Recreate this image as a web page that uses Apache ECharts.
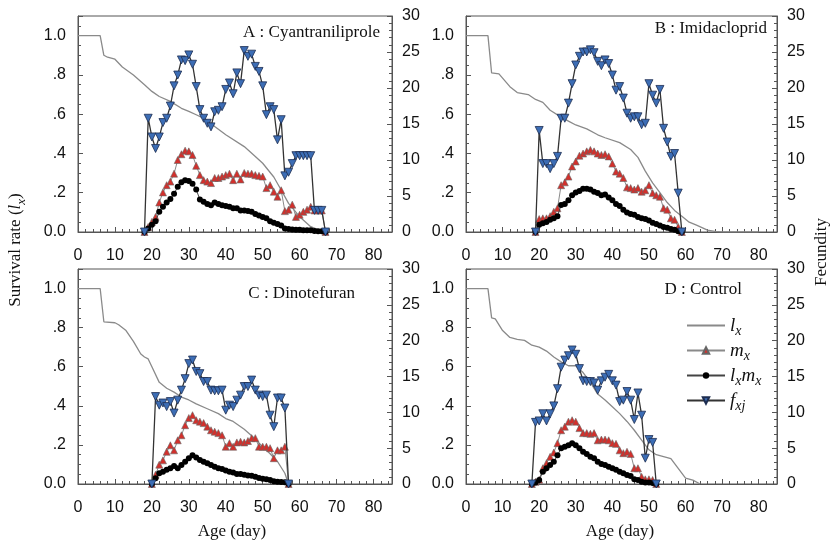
<!DOCTYPE html>
<html><head><meta charset="utf-8">
<script src="https://cdn.jsdelivr.net/npm/echarts@6/dist/echarts.min.js"></script>
<style>html,body{margin:0;padding:0;background:#fff}#c{width:834px;height:549px}</style>
</head><body><div id="c"></div>
<script>
// ---------- DATA ----------
const panelTitles = ['A : Cyantraniliprole', 'B : Imidacloprid', 'C : Dinotefuran', 'D : Control'];
const xTicks = [0, 10, 20, 30, 40, 50, 60, 70, 80];
const seriesNames = ['lx', 'mx', 'lxmx', 'fxj'];

// Panel A (ages 18..67)
const startA = 18;
const fxjA = [0,15.8,13.2,11.6,13.2,15.2,15.8,17.5,20.3,21.8, 23.9,23.8,24.6,23.3,20.2,17.0,15.8,15.1,14.6,16.7, 16.9,17.4,19.8,20.7,19.2,22.1,20.6,25.2,24.4,24.7, 23.0,22.3,20.3,16.3,17.4,17.0,12.8,15.6,7.8,8.3, 9.5,10.6,10.6,10.6,10.6,10.6,3.0,3.0,3.0,0];
const mxA = [0,0.7,1.4,2.1,4.1,5.5,6.5,7.0,8.1,10.0, 10.8,11.3,11.2,10.7,9.2,7.9,7.2,7.0,6.8,7.5, 7.5,7.7,7.9,8.1,7.2,8.1,7.3,8.2,8.1,8.1, 7.9,7.8,7.7,6.1,6.5,5.6,4.9,5.8,2.9,3.1, 3.8,2.1,2.4,2.8,3.1,3.5,3.0,3.0,3.0,0];
const lxmxA = [0,0.5,1.0,1.5,2.8,3.5,4.1,4.6,5.3,6.3, 6.9,7.2,7.1,6.7,5.9,4.5,4.2,3.9,3.7,4.1, 3.9,3.7,3.6,3.5,3.3,3.3,3.0,3.0,2.9,2.8, 2.5,2.3,2.1,1.9,1.5,1.3,1.1,0.9,0.5,0.4, 0.35,0.3,0.3,0.25,0.25,0.25,0.15,0.1,0.1,0];
const lxAgeA = [0,6,7,8,10,12,15,18,20,22,25,28,30,32,35,37,40,45,48,50,53,55,57,60,63,66,67];
const lxA = [1,1,0.90,0.89,0.88,0.84,0.80,0.75,0.716,0.69,0.665,0.63,0.614,0.597,0.57,0.537,0.495,0.435,0.385,0.35,0.28,0.214,0.146,0.078,0.027,0.005,0];

// Panel B (ages 19..59)
const startB = 19;
const fxjB = [0,14.1,9.5,9.5,8.8,9.5,10.5,15.8,15.8,17.9, 20.6,23.2,24.4,25.0,25.0,25.3,24.9,23.7,23.1,23.9, 23.4,21.8,19.7,20.2,18.6,16.5,15.8,16.0,16.0,14.9, 15.1,20.6,19.0,17.9,19.8,14.4,12.5,10.5,10.9,5.4, 0];
const mxB = [0,1.8,1.9,1.9,2.2,2.8,3.3,6.5,6.9,7.7, 9.1,9.8,10.6,10.9,11.2,11.4,11.2,10.9,10.7,10.8, 10.5,9.5,8.4,8.1,7.5,6.2,6.1,5.9,6.1,5.6, 5.8,6.5,5.4,5.1,4.9,3.3,3.1,1.9,1.7,0.7, 0];
const lxmxB = [0,1.0,1.2,1.4,1.7,1.9,2.2,3.75,3.9,4.4, 5.1,5.5,5.7,6.0,6.0,5.9,5.6,5.4,5.1,5.2, 4.8,4.4,3.9,3.6,3.1,2.7,2.5,2.4,2.1,1.9, 1.8,1.6,1.3,1.1,0.9,0.7,0.6,0.4,0.3,0.1, 0];
const lxAgeB = [0,6,7,9,12,14,17,19,21,23,26,28,30,33,36,38,42,45,47,49,51,53,55,57,59,61,63,66,68,70,80];
const lxB = [1,1,0.81,0.805,0.74,0.71,0.70,0.675,0.66,0.62,0.585,0.565,0.545,0.525,0.495,0.48,0.455,0.42,0.38,0.31,0.25,0.20,0.15,0.11,0.08,0.05,0.035,0.01,0.003,0.001,0.001];

// Panel C (ages 20..57)
const startC = 20;
const fxjC = [0,12.2,11.0,11.3,10.8,11.5,9.9,11.7,13.1,14.7, 16.8,17.3,15.7,15.4,14.3,14.3,13.1,13.0,13.0,13.1, 10.3,11.0,10.8,11.7,12.4,13.6,13.6,14.5,13.1,12.4, 12.2,12.4,9.6,8.0,12.0,12.0,10.6,0];
const mxC = [0,1.3,2.7,3.3,4.5,5.4,4.7,6.1,6.8,8.2, 9.2,9.6,8.9,8.7,8.5,8.0,7.5,7.3,7.1,6.8, 5.2,5.7,5.2,5.8,5.9,5.8,6.0,6.4,6.4,5.2, 5.2,5.2,5.0,3.6,4.7,4.7,5.2,0];
const lxmxC = [0,0.8,1.5,1.7,2.0,2.2,2.5,2.2,2.65,3.1, 3.6,4.0,3.7,3.35,3.1,2.9,2.65,2.4,2.2,2.1, 1.9,1.7,1.6,1.4,1.4,1.3,1.2,1.15,1.0,0.85, 0.75,0.65,0.55,0.37,0.3,0.28,0.25,0];
const lxAgeC = [0,6,7,10,11,13,15,17,18,19,20,22,24,26,28,30,32,35,38,40,42,45,48,50,52,54,56,57];
const lxC = [1,1,0.83,0.825,0.815,0.785,0.73,0.665,0.65,0.64,0.60,0.52,0.49,0.47,0.445,0.43,0.41,0.385,0.36,0.335,0.32,0.28,0.23,0.19,0.155,0.115,0.055,0];

// Panel D (ages 18..52)
const startD = 18;
const fxjD = [0,8.6,8.8,9.8,8.8,9.8,10.9,13.3,16.3,17.3, 17.9,18.7,18.1,16.1,14.4,14.3,14.3,14.1,13.1,14.4, 14.9,15.3,14.4,13.8,11.5,11.7,12.9,11.7,9.0,12.7, 9.6,3.6,6.2,5.8,0];
const mxD = [0,0.3,0.6,2.2,2.9,3.8,4.4,5.7,7.5,8.0, 8.7,8.9,8.7,7.8,7.1,7.1,7.0,7.1,6.1,6.2, 6.2,6.1,5.7,5.6,4.7,4.3,4.5,4.2,2.2,2.2, 1.0,0.65,0.65,0.56,0];
const lxmxD = [0,0.2,0.55,1.7,2.2,2.65,3.1,4.0,5.0,5.2, 5.4,5.7,5.4,5.0,4.5,4.2,3.8,3.6,3.1,2.8, 2.65,2.4,2.2,2.0,1.7,1.5,1.25,1.1,0.65,0.56, 0.3,0.2,0.2,0.15,0];
const lxAgeD = [0,6,7,8,10,12,14,16,18,20,22,24,26,28,30,32,34,36,38,40,42,44,46,48,50,52,54,56,58,60,62,64];
const lxD = [1,1,0.85,0.845,0.785,0.75,0.74,0.735,0.71,0.70,0.68,0.65,0.625,0.605,0.605,0.57,0.52,0.46,0.43,0.395,0.36,0.32,0.275,0.225,0.175,0.15,0.14,0.13,0.08,0.03,0.02,0];

// ---------- BUILD ----------
const panels = [
  {start: startA, fxj: fxjA, mx: mxA, lxmx: lxmxA, lxAge: lxAgeA, lx: lxA},
  {start: startB, fxj: fxjB, mx: mxB, lxmx: lxmxB, lxAge: lxAgeB, lx: lxB},
  {start: startC, fxj: fxjC, mx: mxC, lxmx: lxmxC, lxAge: lxAgeC, lx: lxC},
  {start: startD, fxj: fxjD, mx: mxD, lxmx: lxmxD, lxAge: lxAgeD, lx: lxD}
];
const grids = [
  {left: 78, top: 16, width: 314, height: 216},
  {left: 466, top: 16, width: 311, height: 216},
  {left: 78, top: 269, width: 314, height: 215},
  {left: 466, top: 269, width: 311, height: 215}
];
const AX = '#555';
const SANS = "'Liberation Sans', Arial, sans-serif";
const SERIF = "'Liberation Serif', 'Times New Roman', serif";

const pairs = (start, arr) => arr.map((v, i) => [start + i, v]);

const option = {
  animation: false,
  backgroundColor: '#fff',
  grid: grids.map(g => Object.assign({show: true, borderColor: AX, borderWidth: 1, backgroundColor: 'transparent'}, g)),
  xAxis: grids.map((g, i) => ({
    type: 'value', gridIndex: i, min: 0, max: 85, interval: 10,
    axisLine: {show: true, lineStyle: {color: AX, width: 1}},
    axisTick: {show: true, inside: true, length: 5, lineStyle: {color: AX}},
    minorTick: {show: true, splitNumber: 5, length: 3, lineStyle: {color: AX}},
    splitLine: {show: false},
    axisLabel: {fontFamily: SANS, fontSize: 16, color: '#111', margin: 16, showMaxLabel: false,
      formatter: v => xTicks.includes(v) ? String(v) : ''}
  })),
  yAxis: [],
  series: [],
  legend: {
    data: [
      {name: 'lx', itemStyle: {opacity: 0}},
      {name: 'mx'}, {name: 'lxmx'}, {name: 'fxj'}
    ],
    orient: 'vertical', left: 681, top: 311,
    itemWidth: 38, itemHeight: 8, itemGap: 3,
    formatter: n => ({lx: '{i|l}{s|x}', mx: '{i|m}{s|x}', lxmx: '{i|l}{s|x}{i|m}{s|x}', fxj: '{i|f}{s|xj}'})[n],
    textStyle: {
      color: '#111',
      rich: {
        i: {fontFamily: SERIF, fontStyle: 'italic', fontSize: 19, verticalAlign: 'top', lineHeight: 19},
        s: {fontFamily: SERIF, fontStyle: 'italic', fontSize: 14, verticalAlign: 'top', lineHeight: 14, padding: [8, 0, 0, 0]}
      }
    }
  },
  graphic: []
};

grids.forEach((g, i) => {
  option.yAxis.push({
    type: 'value', gridIndex: i, position: 'left', min: 0, max: 1.1, interval: 0.2,
    axisLine: {show: true, lineStyle: {color: AX}},
    axisTick: {show: true, inside: true, length: 5, lineStyle: {color: AX}},
    minorTick: {show: true, splitNumber: 4, length: 3, lineStyle: {color: AX}},
    splitLine: {show: false},
    axisLabel: {fontFamily: SANS, fontSize: 16, color: '#111', margin: 12, showMaxLabel: false,
      formatter: v => { if (v > 1.05) return ''; const s = v.toFixed(1); return (s === '0.0' || s === '1.0') ? s : s.slice(1); }}
  });
  option.yAxis.push({
    type: 'value', gridIndex: i, position: 'right', min: 0, max: 30, interval: 5,
    axisLine: {show: true, lineStyle: {color: AX}},
    axisTick: {show: true, inside: true, length: 5, lineStyle: {color: AX}},
    minorTick: {show: true, splitNumber: 5, length: 3, lineStyle: {color: AX}},
    splitLine: {show: false},
    axisLabel: {fontFamily: SANS, fontSize: 16, color: '#111', margin: 10}
  });
});

panels.forEach((p, i) => {
  const base = {type: 'line', xAxisIndex: i, showAllSymbol: true, animation: false};
  option.series.push(Object.assign({}, base, {
    name: 'lx', yAxisIndex: 2 * i, symbol: 'none', z: 2,
    lineStyle: {color: '#8a8a8a', width: 1.3}, itemStyle: {color: '#8a8a8a'},
    data: p.lxAge.map((a, k) => [a, p.lx[k]])
  }));
  option.series.push(Object.assign({}, base, {
    name: 'mx', yAxisIndex: 2 * i + 1, symbol: 'triangle', symbolSize: 7, z: 3,
    lineStyle: {color: '#8a8a8a', width: 1}, itemStyle: {color: '#d2302c', borderColor: '#666', borderWidth: 0.6},
    data: pairs(p.start, p.mx)
  }));
  option.series.push(Object.assign({}, base, {
    name: 'lxmx', yAxisIndex: 2 * i + 1, symbol: 'circle', symbolSize: 6, z: 4,
    lineStyle: {color: '#444', width: 1}, itemStyle: {color: '#000'},
    data: pairs(p.start, p.lxmx)
  }));
  option.series.push(Object.assign({}, base, {
    name: 'fxj', yAxisIndex: 2 * i + 1, symbol: 'triangle', symbolRotate: 180, symbolSize: 8, z: 5,
    lineStyle: {color: '#333', width: 1.3}, itemStyle: {color: '#3c6db5', borderColor: '#1d2d50', borderWidth: 0.8},
    data: pairs(p.start, p.fxj)
  }));
});

const titlePos = [[380, 33], [767, 29], [355, 294], [742, 290]];
panelTitles.forEach((t, i) => {
  option.graphic.push({type: 'text', x: titlePos[i][0], y: titlePos[i][1], z: 20,
    style: {text: t, fill: '#111', font: '17px ' + SERIF, align: 'right', verticalAlign: 'middle'}});
});
option.graphic.push({type: 'text', x: 232, y: 532, style: {text: 'Age (day)', fill: '#111', font: '17px ' + SERIF, align: 'center', verticalAlign: 'middle'}});
option.graphic.push({type: 'text', x: 620, y: 532, style: {text: 'Age (day)', fill: '#111', font: '17px ' + SERIF, align: 'center', verticalAlign: 'middle'}});
option.graphic.push({type: 'text', x: 822, y: 252, rotation: Math.PI / 2,
  style: {text: 'Fecundity', fill: '#111', font: '17px ' + SERIF, align: 'center', verticalAlign: 'middle'}});
option.graphic.push({type: 'text', x: 16, y: 250, rotation: Math.PI / 2,
  style: {text: '{n|Survival rate (}{i|l}{s|x}{n|)}', fill: '#111', align: 'center', verticalAlign: 'middle',
    rich: {
      n: {fontFamily: SERIF, fontSize: 17, verticalAlign: 'top', lineHeight: 18},
      i: {fontFamily: SERIF, fontSize: 17, fontStyle: 'italic', verticalAlign: 'top', lineHeight: 18},
      s: {fontFamily: SERIF, fontSize: 13, fontStyle: 'italic', verticalAlign: 'top', lineHeight: 13, padding: [8, 0, 0, 0]}
    }}});

const chart = echarts.init(document.getElementById('c'), null, {renderer: 'canvas'});
chart.setOption(option);
</script>
</body></html>
